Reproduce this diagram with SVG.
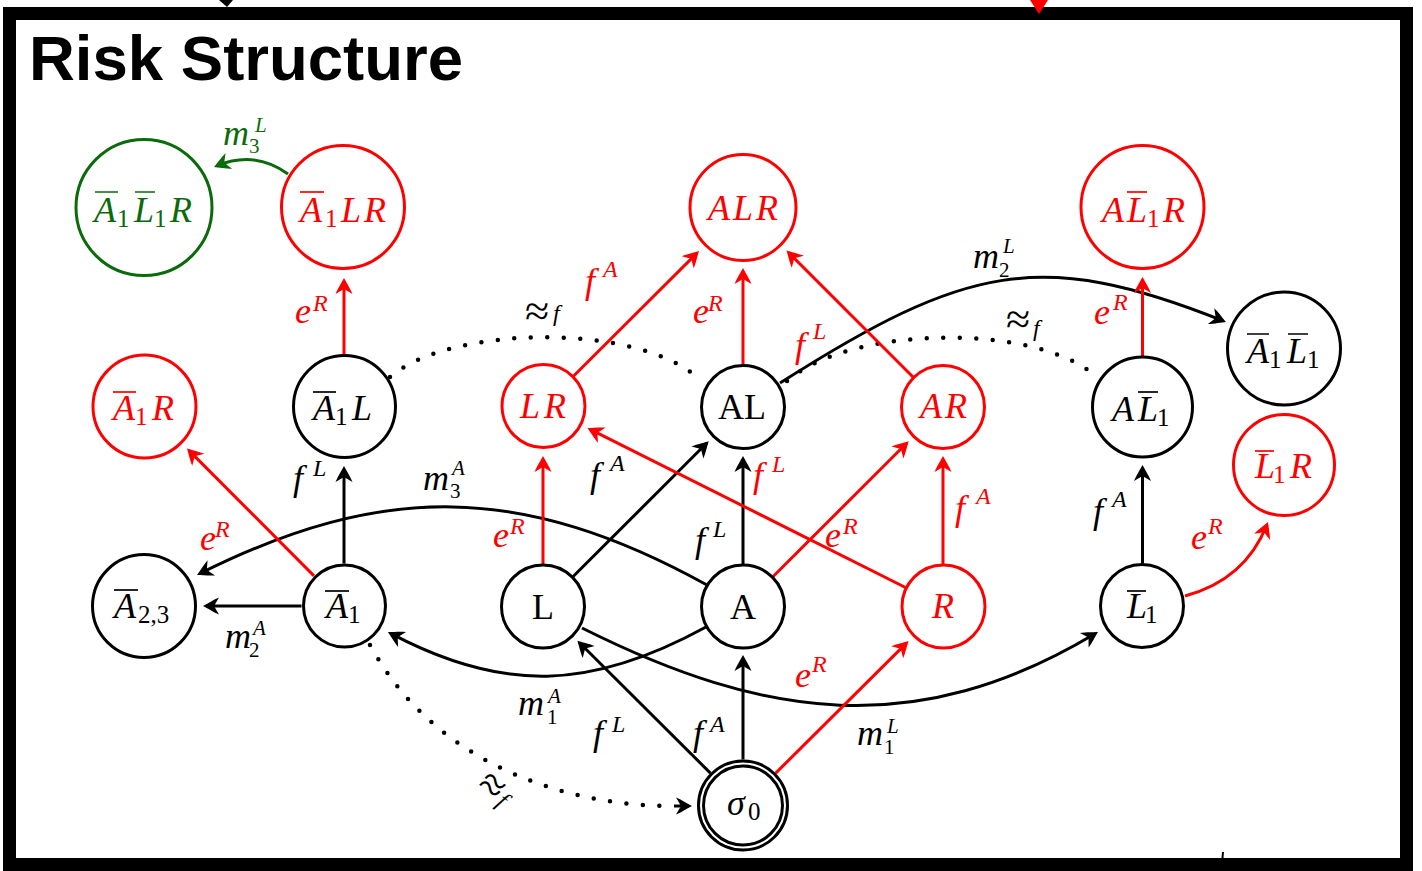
<svg xmlns="http://www.w3.org/2000/svg" width="1422" height="871" viewBox="0 0 1422 871">
  <defs>
    <style>
      .node circle { fill: #fff; stroke-width: 3; }
      .node text { font-family: "Liberation Serif", "Times New Roman", serif; font-style: italic; font-size: 36px; }
      .node text.up { font-style: normal; }
      .node .ol { stroke-width: 1.7; fill: none; }
      .k circle, .k .ol { stroke: #000; } .k text { fill: #000; }
      .r circle, .r .ol { stroke: #f00; } .r text { fill: #f00; }
      .g circle, .g .ol { stroke: #0b6b0b; } .g text { fill: #0b6b0b; }
      .s { font-size: 25px; font-style: normal; }
      .e { fill: none; stroke-width: 3; }
      .ek { stroke: #000; } .er { stroke: #f00; } .eg { stroke: #0b6b0b; }
      .dot { fill: none; stroke: #000; stroke-width: 4.5; stroke-linecap: round; stroke-dasharray: 0 16.5; }
      .lb { font-family: "Liberation Serif", "Times New Roman", serif; font-style: italic; font-size: 36px; }
      .lb.kt { fill: #000; } .lb.rt { fill: #f00; } .lb.gt { fill: #0b6b0b; }
      .lb .ap { font-style: normal; font-size: 44px; }
      .sl { font-size: 24px; }
      .ml { font-size: 21px; }
      .sd { font-size: 21px; font-style: normal; }
    </style>
    <marker id="ak" viewBox="-18 -10 20 20" refX="-3" refY="0" markerWidth="20" markerHeight="20" markerUnits="userSpaceOnUse" orient="auto">
      <path d="M0 0C-4 -2 -10 -6 -16 -8.5L-11 0L-16 8.5C-10 6 -4 2 0 0Z" fill="#000"/>
    </marker>
    <marker id="ar" viewBox="-18 -10 20 20" refX="-3" refY="0" markerWidth="20" markerHeight="20" markerUnits="userSpaceOnUse" orient="auto">
      <path d="M0 0C-4 -2 -10 -6 -16 -8.5L-11 0L-16 8.5C-10 6 -4 2 0 0Z" fill="#f00"/>
    </marker>
    <marker id="ag" viewBox="-18 -10 20 20" refX="-3" refY="0" markerWidth="20" markerHeight="20" markerUnits="userSpaceOnUse" orient="auto">
      <path d="M0 0C-4 -2 -10 -6 -16 -8.5L-11 0L-16 8.5C-10 6 -4 2 0 0Z" fill="#0b6b0b"/>
    </marker>
  </defs>

  <rect width="1422" height="871" fill="#fff"/>

  <!-- frame and title -->
  <rect x="9.5" y="13.5" width="1397" height="851" fill="none" stroke="#000" stroke-width="13"/>
  <text x="29" y="80" font-family="Liberation Sans, Arial, sans-serif" font-weight="bold" font-size="63.5" fill="#000">Risk Structure</text>

  <g id="connectors">
    <!-- arrows entering from above the frame -->
    <path d="M219 0L233 0L227 7Z" fill="#000"/>
    <path d="M1030 0L1048 0L1039 14Z" fill="#f00"/>
    <path d="M1223 852L1222.5 858" stroke="#000" stroke-width="2"/>

    <!-- black transitions -->
    <path class="e ek" d="M344 563.5V469" marker-end="url(#ak)"/>
    <path class="e ek" d="M301.5 606H206" marker-end="url(#ak)"/>
    <path class="e ek" d="M573.1 576.5L706.6 443.3" marker-end="url(#ak)"/>
    <path class="e ek" d="M743 564V459" marker-end="url(#ak)"/>
    <path class="e ek" d="M710.4 773.1L579.5 642.8" marker-end="url(#ak)"/>
    <path class="e ek" d="M743 759.5V658" marker-end="url(#ak)"/>
    <path class="e ek" d="M1142.5 563.5V468" marker-end="url(#ak)"/>
    <path class="e ek" d="M707 585C522 483 382 482.5 199.7 573.7" marker-end="url(#ak)"/>
    <path class="e ek" d="M706 627C591 690 503 693 390.6 633.4" marker-end="url(#ak)"/>
    <path class="e ek" d="M582 628C764 719 916 741 1095.4 633.5" marker-end="url(#ak)"/>
    <path class="e ek" d="M780 383C966 265 1040 248 1223.2 320.9" marker-end="url(#ak)"/>

    <!-- fairness equivalences -->
    <path class="dot" d="M390 377C450 325 640 322 700 380"/>
    <path class="dot" d="M787 381C850 325 1040 322 1099 379"/>
    <path class="dot" d="M370 645C437 768 572 806 672 806"/>
    <path class="e ek" d="M674 806H689" marker-end="url(#ak)"/>

    <!-- red transitions -->
    <path class="e er" d="M344 354.5V281" marker-end="url(#ar)"/>
    <path class="e er" d="M314 575.9L189.1 450.6" marker-end="url(#ar)"/>
    <path class="e er" d="M543 564V459" marker-end="url(#ar)"/>
    <path class="e er" d="M573.6 376L696.9 253.1" marker-end="url(#ar)"/>
    <path class="e er" d="M743 364.5V271" marker-end="url(#ar)"/>
    <path class="e er" d="M913 377L788.6 252.6" marker-end="url(#ar)"/>
    <path class="e er" d="M905.5 587.5L590.2 429.3" marker-end="url(#ar)"/>
    <path class="e er" d="M773.1 576.5L906.6 443.3" marker-end="url(#ar)"/>
    <path class="e er" d="M943 564V459" marker-end="url(#ar)"/>
    <path class="e er" d="M775.7 773.1L906.4 643.1" marker-end="url(#ar)"/>
    <path class="e er" d="M1142.5 356V280" marker-end="url(#ar)"/>
    <path class="e er" d="M1185 596Q1245 580 1266.9 524.8" marker-end="url(#ar)"/>

    <!-- green transition -->
    <path class="e eg" d="M288 174Q255 150 216.8 165.8" marker-end="url(#ag)"/>
  </g>

  <g id="edge-labels">
    <text class="lb gt"><tspan x="223" y="145">m</tspan><tspan class="sd" x="249" y="153">3</tspan><tspan class="ml" x="255" y="132">L</tspan></text>
    <text class="lb rt"><tspan x="295" y="323">e</tspan><tspan class="sl" x="313" y="311">R</tspan></text>
    <text class="lb rt"><tspan x="200" y="550">e</tspan><tspan class="sl" x="215" y="537">R</tspan></text>
    <text class="lb kt"><tspan x="293" y="490">f</tspan><tspan class="sl" x="313" y="476">L</tspan></text>
    <text class="lb kt"><tspan x="423" y="490">m</tspan><tspan class="sd" x="450" y="498">3</tspan><tspan class="ml" x="452" y="475">A</tspan></text>
    <text class="lb kt"><tspan class="ap" x="525" y="326">≈</tspan><tspan class="sl" x="553" y="321">f</tspan></text>
    <text class="lb rt"><tspan x="585" y="293">f</tspan><tspan class="sl" x="603" y="277">A</tspan></text>
    <text class="lb rt"><tspan x="693" y="323">e</tspan><tspan class="sl" x="708" y="311">R</tspan></text>
    <text class="lb rt"><tspan x="795" y="357">f</tspan><tspan class="sl" x="813" y="339">L</tspan></text>
    <text class="lb kt"><tspan x="590" y="487">f</tspan><tspan class="sl" x="610" y="471">A</tspan></text>
    <text class="lb rt"><tspan x="753" y="487">f</tspan><tspan class="sl" x="772" y="472">L</tspan></text>
    <text class="lb rt"><tspan x="493" y="547">e</tspan><tspan class="sl" x="510" y="534">R</tspan></text>
    <text class="lb kt"><tspan x="695" y="552">f</tspan><tspan class="sl" x="713" y="537">L</tspan></text>
    <text class="lb rt"><tspan x="825" y="547">e</tspan><tspan class="sl" x="843" y="534">R</tspan></text>
    <text class="lb kt"><tspan x="225" y="648">m</tspan><tspan class="sd" x="249" y="657">2</tspan><tspan class="ml" x="253" y="635">A</tspan></text>
    <g transform="translate(491 787) rotate(38)">
      <text class="lb kt"><tspan class="ap" x="-12" y="12">≈</tspan><tspan class="sl" x="14" y="11">f</tspan></text>
    </g>
    <text class="lb kt"><tspan x="518" y="715">m</tspan><tspan class="sd" x="547" y="724">1</tspan><tspan class="ml" x="548" y="703">A</tspan></text>
    <text class="lb kt"><tspan x="593" y="745">f</tspan><tspan class="sl" x="612" y="732">L</tspan></text>
    <text class="lb kt"><tspan x="693" y="745">f</tspan><tspan class="sl" x="710" y="732">A</tspan></text>
    <text class="lb rt"><tspan x="795" y="687">e</tspan><tspan class="sl" x="812" y="672">R</tspan></text>
    <text class="lb kt"><tspan x="857" y="745">m</tspan><tspan class="sd" x="884" y="754">1</tspan><tspan class="ml" x="887" y="733">L</tspan></text>
    <text class="lb rt"><tspan x="955" y="520">f</tspan><tspan class="sl" x="976" y="504">A</tspan></text>
    <text class="lb kt"><tspan x="1093" y="523">f</tspan><tspan class="sl" x="1112" y="507">A</tspan></text>
    <text class="lb rt"><tspan x="1191" y="549">e</tspan><tspan class="sl" x="1208" y="534">R</tspan></text>
    <text class="lb rt"><tspan x="1094" y="324">e</tspan><tspan class="sl" x="1113" y="310">R</tspan></text>
    <text class="lb kt"><tspan class="ap" x="1006" y="334">≈</tspan><tspan class="sl" x="1033" y="336">f</tspan></text>
    <text class="lb kt"><tspan x="973" y="268">m</tspan><tspan class="sd" x="999" y="277">2</tspan><tspan class="ml" x="1003" y="253">L</tspan></text>
  </g>

  <!-- top row -->
  <g id="n-A1bar-L1bar-R" class="node g">
    <circle cx="144" cy="207.5" r="68"/>
    <text><tspan x="94" y="222">A</tspan><tspan class="s" x="117" y="227">1</tspan><tspan x="134" y="222">L</tspan><tspan class="s" x="154" y="227">1</tspan><tspan x="170" y="222">R</tspan></text>
    <path class="ol" d="M95 192H118M135 192H155"/>
  </g>
  <g id="n-A1bar-L-R" class="node r">
    <circle cx="343" cy="207" r="61.5"/>
    <text><tspan x="300" y="222">A</tspan><tspan class="s" x="325" y="227">1</tspan><tspan x="341" y="222">L</tspan><tspan x="364" y="222">R</tspan></text>
    <path class="ol" d="M300 192H324"/>
  </g>
  <g id="n-ALR" class="node r">
    <circle cx="743" cy="207.5" r="53"/>
    <text><tspan x="708" y="220">A</tspan><tspan x="733" y="220">L</tspan><tspan x="756" y="220">R</tspan></text>
  </g>
  <g id="n-A-L1bar-R" class="node r">
    <circle cx="1142.5" cy="207" r="61.5"/>
    <text><tspan x="1102" y="222">A</tspan><tspan x="1127" y="222">L</tspan><tspan class="s" x="1147" y="227">1</tspan><tspan x="1163" y="222">R</tspan></text>
    <path class="ol" d="M1127 192H1147"/>
  </g>

  <!-- second row -->
  <g id="n-A1bar-R" class="node r">
    <circle cx="144.5" cy="406.5" r="51.5"/>
    <text><tspan x="113" y="420">A</tspan><tspan class="s" x="135" y="425">1</tspan><tspan x="152" y="420">R</tspan></text>
    <path class="ol" d="M113 392H136"/>
  </g>
  <g id="n-A1bar-L" class="node k">
    <circle cx="344.5" cy="406.5" r="51"/>
    <text><tspan x="313" y="420">A</tspan><tspan class="s" x="335" y="425">1</tspan><tspan x="352" y="420">L</tspan></text>
    <path class="ol" d="M313 392H336"/>
  </g>
  <g id="n-LR" class="node r">
    <circle cx="543.5" cy="406" r="41.5"/>
    <text><tspan x="520" y="418">L</tspan><tspan x="544" y="418">R</tspan></text>
  </g>
  <g id="n-AL" class="node k">
    <circle cx="743" cy="407" r="41.5"/>
    <text class="up" x="742" y="419" text-anchor="middle" font-size="33">AL</text>
  </g>
  <g id="n-AR" class="node r">
    <circle cx="943" cy="407" r="41.5"/>
    <text><tspan x="920" y="418">A</tspan><tspan x="945" y="418">R</tspan></text>
  </g>
  <g id="n-A-L1bar" class="node k">
    <circle cx="1142.5" cy="407" r="50"/>
    <text><tspan x="1112" y="421">A</tspan><tspan x="1138" y="421">L</tspan><tspan class="s" x="1157" y="426">1</tspan></text>
    <path class="ol" d="M1138 392H1158"/>
  </g>
  <g id="n-A1bar-L1bar" class="node k">
    <circle cx="1284" cy="348.5" r="56.5"/>
    <text><tspan x="1247" y="363">A</tspan><tspan class="s" x="1269" y="368">1</tspan><tspan x="1287" y="363">L</tspan><tspan class="s" x="1307" y="368">1</tspan></text>
    <path class="ol" d="M1247 334H1269M1288 334H1308"/>
  </g>
  <g id="n-L1bar-R" class="node r">
    <circle cx="1284" cy="465" r="50.5"/>
    <text><tspan x="1255" y="478">L</tspan><tspan class="s" x="1273" y="483">1</tspan><tspan x="1290" y="478">R</tspan></text>
    <path class="ol" d="M1255 451H1274"/>
  </g>

  <!-- third row -->
  <g id="n-A23bar" class="node k">
    <circle cx="144" cy="606" r="51.5"/>
    <text><tspan x="114" y="618">A</tspan><tspan class="s" x="138" y="623">2,3</tspan></text>
    <path class="ol" d="M114 590H138"/>
  </g>
  <g id="n-A1bar" class="node k">
    <circle cx="344.5" cy="606" r="41"/>
    <text><tspan x="326" y="618">A</tspan><tspan class="s" x="348" y="623">1</tspan></text>
    <path class="ol" d="M325 591H349"/>
  </g>
  <g id="n-L" class="node k">
    <circle cx="543" cy="606.5" r="41.5"/>
    <text class="up" x="543" y="619" text-anchor="middle">L</text>
  </g>
  <g id="n-A" class="node k">
    <circle cx="743" cy="606.5" r="41.5"/>
    <text class="up" x="743" y="619" text-anchor="middle">A</text>
  </g>
  <g id="n-R" class="node r">
    <circle cx="943.5" cy="606.5" r="41.5"/>
    <text x="932" y="618">R</text>
  </g>
  <g id="n-L1bar" class="node k">
    <circle cx="1142" cy="606" r="41.5"/>
    <text><tspan x="1127" y="618">L</tspan><tspan class="s" x="1145" y="623">1</tspan></text>
    <path class="ol" d="M1127 591H1146"/>
  </g>

  <!-- initial state -->
  <g id="n-sigma0" class="node k">
    <circle cx="743" cy="805.5" r="44.5" stroke-width="2.6"/>
    <circle cx="743" cy="805.5" r="39.5" stroke-width="2.6"/>
    <text><tspan x="727" y="815">σ</tspan><tspan class="s" x="748" y="820">0</tspan></text>
  </g>
</svg>
